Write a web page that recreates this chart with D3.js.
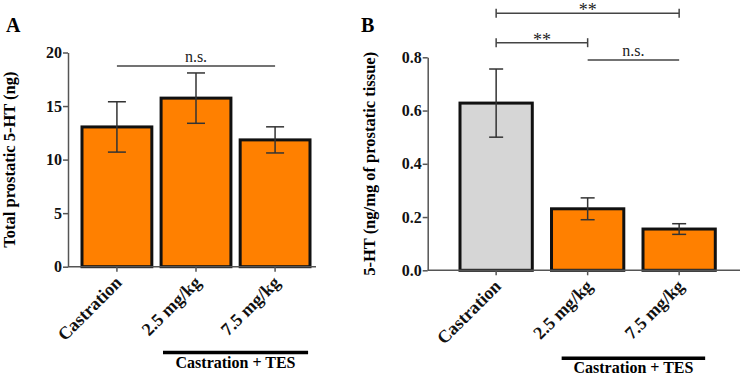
<!DOCTYPE html>
<html>
<head>
<meta charset="utf-8">
<script src="https://cdn.jsdelivr.net/npm/d3@7"></script>
<style>
  body { margin: 0; background: #fff; }
  svg { display: block; font-family: "Liberation Serif", "Times New Roman", serif; }
  .tick text { font-size: 16px; font-weight: bold; fill: #111; }
  .axis path, .axis line { stroke: #555; stroke-width: 1.5; }
</style>
</head>
<body>
<div id="chart"></div>
<script>
// data
var categories = ["Castration", "2.5 mg/kg", "7.5 mg/kg"];
var totalMean = [13.05, 15.74, 11.84];   // panel A, ng
var totalSem = [2.35, 2.35, 1.22];
var concMean = [0.628, 0.231, 0.155];    // panel B, ng/mg tissue
var concSem = [0.128, 0.041, 0.02];
var ticksA = [0, 5, 10, 15, 20];
var ticksB = [0, 0.2, 0.4, 0.6, 0.8];
var barColorsA = ["#ff8000", "#ff8000", "#ff8000"];
var barColorsB = ["#d6d6d6", "#ff8000", "#ff8000"];

var svg = d3.select("#chart").append("svg")
  .attr("width", 749)
  .attr("height", 375);

function panel(opt) {
  var g = svg.append("g");
  var x = d3.scaleBand().domain(categories)
    .range([opt.x0, opt.x1])
    .paddingInner(opt.padIn).paddingOuter(opt.padOut);
  var y = d3.scaleLinear().domain(opt.domain).range([opt.yBottom, opt.yTop]);

  var data = categories.map(function(c, i) {
    return { name: c, mean: opt.mean[i], sem: opt.sem[i], color: opt.colors[i] };
  });

  // bars
  g.selectAll("rect.bar").data(data).enter().append("rect")
    .attr("class", "bar")
    .attr("x", function(d) { return x(d.name); })
    .attr("y", function(d) { return y(d.mean); })
    .attr("width", x.bandwidth())
    .attr("height", function(d) { return y(0) - y(d.mean); })
    .attr("fill", function(d) { return d.color; })
    .attr("stroke", "#111")
    .attr("stroke-width", 3);

  // error bars
  var eb = g.selectAll("g.err").data(data).enter().append("g")
    .attr("class", "err")
    .attr("stroke", "#333")
    .attr("stroke-width", 1.5);
  eb.append("line")
    .attr("x1", function(d) { return x(d.name) + x.bandwidth() / 2; })
    .attr("x2", function(d) { return x(d.name) + x.bandwidth() / 2; })
    .attr("y1", function(d) { return y(d.mean + d.sem); })
    .attr("y2", function(d) { return y(d.mean - d.sem); });
  [1, -1].forEach(function(s) {
    eb.append("line")
      .attr("x1", function(d) { return x(d.name) + x.bandwidth() / 2 - opt.cap; })
      .attr("x2", function(d) { return x(d.name) + x.bandwidth() / 2 + opt.cap; })
      .attr("y1", function(d) { return y(d.mean + s * d.sem); })
      .attr("y2", function(d) { return y(d.mean + s * d.sem); });
  });

  // y axis
  g.append("g")
    .attr("class", "axis")
    .attr("transform", "translate(" + opt.x0 + ",0)")
    .call(d3.axisLeft(y).tickValues(opt.ticks).tickFormat(opt.fmt).tickSize(5).tickSizeOuter(0).tickPadding(1))
    .attr("font-family", null)
    .attr("font-size", null);

  // x axis
  var xa = g.append("g")
    .attr("class", "axis")
    .attr("transform", "translate(0," + y(0) + ")")
    .call(d3.axisBottom(x).tickSize(5).tickSizeOuter(0))
    .attr("font-family", null)
    .attr("font-size", null);
  xa.select(".domain").remove();
  xa.append("line")
    .attr("x1", opt.x0).attr("x2", opt.xAxisEnd)
    .attr("stroke", "#555").attr("stroke-width", 1.5);
  xa.selectAll(".tick text")
    .attr("text-anchor", "end")
    .attr("dy", null)
    .attr("y", null)
    .style("font-size", "18px")
    .attr("transform", "translate(6,17) rotate(-45)");

  // y title
  g.append("text")
    .attr("transform", "translate(" + opt.titleX + "," + (opt.yBottom + opt.yTop) / 2 + ") rotate(-90)")
    .attr("text-anchor", "middle")
    .attr("font-size", "16.5px")
    .attr("font-weight", "bold")
    .text(opt.yTitle);

  // panel letter
  g.append("text")
    .attr("x", opt.letterX).attr("y", 32)
    .attr("font-size", "20px")
    .attr("font-weight", "bold")
    .text(opt.letter);

  // Castration + TES group bar
  var gx1 = x(categories[1]) + x.bandwidth() / 2 - opt.groupPad;
  var gx2 = x(categories[2]) + x.bandwidth() / 2 + opt.groupPad;
  g.append("line")
    .attr("x1", gx1).attr("x2", gx2)
    .attr("y1", opt.groupY).attr("y2", opt.groupY)
    .attr("stroke", "#000").attr("stroke-width", 3.5);
  g.append("text")
    .attr("x", (gx1 + gx2) / 2).attr("y", opt.groupY + 15)
    .attr("text-anchor", "middle")
    .attr("font-size", "16px")
    .attr("font-weight", "bold")
    .text("Castration + TES");

  return { g: g, x: x, y: y };
}

function center(p, c) { return p.x(c) + p.x.bandwidth() / 2; }

function bracket(p, a, b, yy, label, ends) {
  var x1 = center(p, a), x2 = center(p, b);
  var g = p.g.append("g").attr("stroke", "#444").attr("stroke-width", 1.5);
  g.append("line").attr("x1", x1).attr("x2", x2).attr("y1", yy).attr("y2", yy);
  if (ends) {
    [x1, x2].forEach(function(xx) {
      g.append("line").attr("x1", xx).attr("x2", xx).attr("y1", yy - 4.5).attr("y2", yy + 4.5);
    });
  }
  p.g.append("text")
    .attr("x", (x1 + x2) / 2)
    .attr("y", label === "n.s." ? yy - 4 : yy + 3)
    .attr("text-anchor", "middle")
    .attr("font-size", label === "n.s." ? "16px" : "18px")
    .attr("fill", "#222")
    .text(label);
}

var pA = panel({
  x0: 68, x1: 324, xAxisEnd: 316, padIn: 0.117, padOut: 0.177,
  yBottom: 266.7, yTop: 52.5, domain: [0, 20],
  ticks: ticksA, fmt: d3.format("d"),
  mean: totalMean, sem: totalSem, colors: barColorsA, cap: 9,
  yTitle: "Total prostatic 5-HT (ng)", titleX: 15,
  letter: "A", letterX: 6,
  groupY: 352.5, groupPad: 33
});
bracket(pA, categories[0], categories[2], pA.y(18.75), "n.s.", false);

var pB = panel({
  x0: 427.7, x1: 747.6, xAxisEnd: 740, padIn: 0.21, padOut: 0.353,
  yBottom: 270.3, yTop: 57.3, domain: [0, 0.8],
  ticks: ticksB, fmt: d3.format(".1f"),
  mean: concMean, sem: concSem, colors: barColorsB, cap: 7,
  yTitle: "5-HT (ng/mg of prostatic tissue)", titleX: 375,
  letter: "B", letterX: 361,
  groupY: 358.3, groupPad: 26
});
bracket(pB, categories[0], categories[2], 13.3, "**", true);
bracket(pB, categories[0], categories[1], 42.7, "**", true);
bracket(pB, categories[1], categories[2], 60, "n.s.", false);
</script>
</body>
</html>
